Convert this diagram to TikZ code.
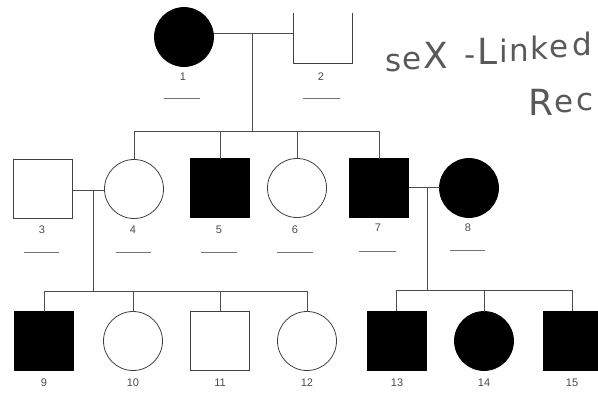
\documentclass[tikz,border=0pt]{standalone}
\usepackage{fontspec}
\setmainfont{Liberation Sans}
\newfontfamily\handfont{DejaVu Sans}
\begin{document}
\begin{tikzpicture}[x=1pt,y=-1pt,
  lineclr/.style={draw=black!75},
  person/.style={lineclr,line width=0.8pt,inner sep=0pt,outer sep=0pt},
  male/.style={person,rectangle,minimum size=59pt,fill=white},
  female/.style={person,circle,minimum size=59pt,fill=white},
  affected/.style={fill=black,draw=black},
  conn/.style={draw=black!70,line width=0.7pt},
  num/.style={font=\fontsize{11}{13}\selectfont,text=black!70,inner sep=0pt},
  ul/.style={draw=black!55,line width=0.8pt},
  hand/.style={text=black!65,inner sep=0pt,anchor=base,font=\handfont\fontsize{31}{31}\selectfont},
  handcap/.style={hand,font=\handfont\fontsize{36}{36}\selectfont}]
\useasboundingbox (0,0) rectangle (598,400);
\clip (0,0) rectangle (598,400);
\fill[white] (0,0) rectangle (598,400);

% Generation I
\node[female,affected] (n1) at (184,37) {};
\node[inner sep=0pt,outer sep=0pt,minimum width=59pt,minimum height=50pt] (n2) at (322.5,38) {};
\draw[person] (n2.north west) -- (n2.south west) -- (n2.south east) -- (n2.north east);
\coordinate (m12) at (252,33);
\coordinate (s1) at (252,131);
\draw[conn] (n1.east |- m12) -- (n2.west |- m12);
\draw[conn] (m12) -- (s1);

% Generation II
\node[male] (n3) at (43,189) {};
\node[female] (n4) at (134,189) {};
\node[male,affected] (n5) at (220,188) {};
\node[female] (n6) at (297,188) {};
\node[male,affected] (n7) at (379,188) {};
\node[female,affected] (n8) at (469,188) {};
\draw[conn] (n4.north |- s1) -- (n7.north |- s1);
\foreach \p in {n4,n5,n6,n7} \draw[conn] (\p.north |- s1) -- (\p.north);

\coordinate (m34) at (93,190);
\coordinate (s2) at (93,291);
\draw[conn] (n3.east |- m34) -- (n4.west |- m34);
\draw[conn] (m34) -- (s2);
\coordinate (m78) at (427,187);
\coordinate (s3) at (427,290);
\draw[conn] (n7.east |- m78) -- (n8.west |- m78);
\draw[conn] (m78) -- (s3);

% Generation III
\node[male,affected] (n9) at (44,341) {};
\node[female] (n10) at (133,341) {};
\node[male] (n11) at (220,340.5) {};
\node[female] (n12) at (307,341) {};
\node[male,affected] (n13) at (396.5,340.5) {};
\node[female,affected] (n14) at (484,341) {};
\node[male,affected] (n15) at (572.5,340.5) {};
\draw[conn] (n9.north |- s2) -- (n12.north |- s2);
\foreach \p in {n9,n10,n11,n12} \draw[conn] (\p.north |- s2) -- (\p.north);
\draw[conn] (n13.north |- s3) -- (n15.north |- s3);
\foreach \p in {n13,n14,n15} \draw[conn] (\p.north |- s3) -- (\p.north);

% numbers
\node[num] (l1) at (183,77) {1};
\node[num] (l2) at (321,77) {2};
\node[num] (l3) at (42,230) {3};
\node[num] (l4) at (133,230) {4};
\node[num] (l5) at (219,230) {5};
\node[num] (l6) at (295,230) {6};
\node[num] (l7) at (378,228) {7};
\node[num] (l8) at (468,228) {8};
\node[num] (l9) at (44,383) {9};
\node[num] (l10) at (133,383) {10};
\node[num] (l11) at (220,383) {11};
\node[num] (l12) at (307,383) {12};
\node[num] (l13) at (397,383) {13};
\node[num] (l14) at (484,383) {14};
\node[num] (l15) at (572,383) {15};

% blanks
\draw[ul] (164,98) -- (200,98);
\draw[ul] (303,98) -- (340,98);
\draw[ul] (24,252) -- (59,252);
\draw[ul] (116,252) -- (151,252);
\draw[ul] (201,252) -- (237,252);
\draw[ul] (277,252) -- (313,252);
\draw[ul] (359,251) -- (396,251);
\draw[ul] (450,250) -- (485,250);

% handwriting, letter by letter along a rising baseline
\foreach \st/\ch/\x/\y [count=\i] in {hand/s/394/71, hand/e/412/69, handcap/X/436/68, hand/-/470/65, handcap/L/488/64, hand/i/504/62, hand/n/519/61, hand/k/539/59, hand/e/559/57, hand/d/582/55}
  \node[\st] (ha\i) at (\x,\y) {\ch};
\foreach \st/\ch/\x/\y [count=\i] in {handcap/R/541/115, hand/e/564/112, hand/c/585/110}
  \node[\st] (hb\i) at (\x,\y) {\ch};
\end{tikzpicture}
\end{document}
